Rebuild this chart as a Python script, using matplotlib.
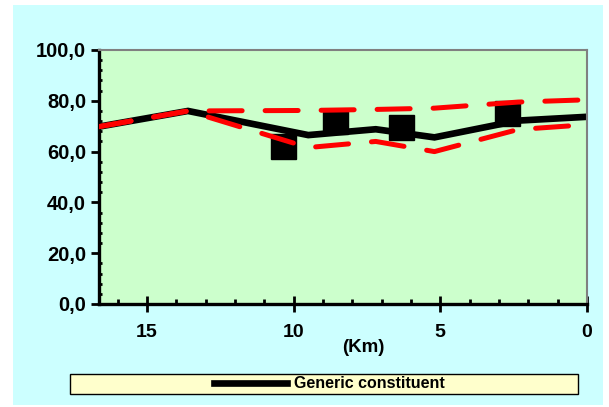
import matplotlib
matplotlib.use("Agg")
from matplotlib import pyplot as plt
from matplotlib.patches import Rectangle
from matplotlib.ticker import MultipleLocator, FuncFormatter

# model (black) and envelope (red dashed), km from outlet
MODEL_KM = [16.65, 13.6, 9.5, 7.2, 5.2, 2.35, 0.0]
MODEL = [69.8, 76.0, 66.5, 68.8, 65.6, 72.2, 73.7]
UPPER = [69.8, 76.0, 76.2, 76.6, 77.1, 79.5, 80.4]
LOWER = [69.8, 76.0, 61.6, 64.0, 60.0, 68.7, 70.6]

# observations (squares)
OBS_KM = [10.37, 8.6, 6.34, 2.74]
OBS = [62.1, 72.1, 69.8, 75.1]

LABEL = "Generic constituent"

plt.rcParams["font.family"] = ["Liberation Sans", "DejaVu Sans"]
plt.rcParams["font.weight"] = "bold"

W, H = 609, 407
fig = plt.figure(figsize=(W / 100, H / 100), dpi=100, facecolor="white")
fig.patches.append(Rectangle((13 / W, 2 / H), 590 / W, 400 / H, transform=fig.transFigure,
                             facecolor="#CCFFFF", edgecolor="none", zorder=-10))

ax = fig.add_axes([98.5 / W, 1 - 304 / H, (587 - 98.5) / W, (304 - 50) / H])
ax.set_facecolor("#CCFFCC")

ax.plot(OBS_KM, OBS, ls="none", marker="s", ms=18, color="black", zorder=1)
ax.plot(MODEL_KM, MODEL, color="black", lw=4.8, solid_joinstyle="miter", label=LABEL, zorder=2)
ax.plot(MODEL_KM, UPPER, color="red", lw=3.6, dashes=(6.6, 4.6), dash_capstyle="round", zorder=3)
ax.plot(MODEL_KM, LOWER, color="red", lw=3.6, dashes=(6.6, 4.6), dash_capstyle="round", zorder=3)

ax.set_xlim(16.65, 0)
ax.set_ylim(0, 100)
ax.xaxis.set_major_locator(MultipleLocator(5))
ax.xaxis.set_minor_locator(MultipleLocator(1))
ax.yaxis.set_major_locator(MultipleLocator(20))
ax.yaxis.set_minor_locator(MultipleLocator(4))
ax.yaxis.set_major_formatter(FuncFormatter(lambda v, p: f"{v:.1f}".replace(".", ",")))
ax.xaxis.set_major_formatter(FuncFormatter(lambda v, p: f"{v:.0f}"))

ax.tick_params(axis="x", which="major", direction="inout", length=11.5, width=2, labelsize=14, pad=9)
ax.tick_params(axis="x", which="minor", direction="in", length=3.5, width=2)
ax.tick_params(axis="y", which="major", direction="out", length=6, width=2, labelsize=14.5, pad=3)
ax.tick_params(axis="y", which="minor", direction="in", length=2.5, width=2)

for s in ("left", "bottom"):
    ax.spines[s].set_linewidth(2.4)
for s in ("top", "right"):
    ax.spines[s].set_color("#808080")
    ax.spines[s].set_linewidth(1.5)

fig.text(363 / W, 1 - 347 / H, "(Km)", ha="center", va="center", fontsize=13.5, fontweight="bold")

fig.patches.append(Rectangle((70 / W, 1 - 394 / H), 508 / W, 20 / H, transform=fig.transFigure,
                             facecolor="#FFFFCC", edgecolor="black", lw=1, zorder=1))
fig.legend(loc="center", bbox_to_anchor=(329 / W, 1 - 384 / H), frameon=False,
           handlelength=4.6, handletextpad=0.4, borderpad=0,
           prop={"weight": "bold", "size": 11.5})

fig.savefig("out.png", dpi=100, facecolor="white")
